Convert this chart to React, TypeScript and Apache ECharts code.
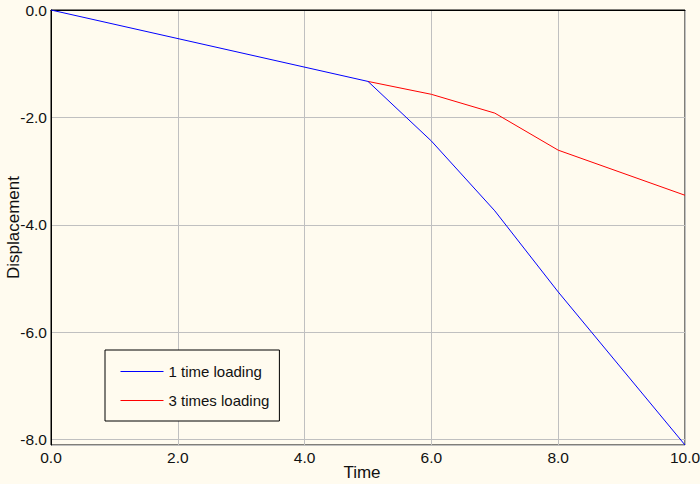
import React, { useEffect, useRef } from "react";
import * as echarts from "echarts";

const oneTimeX = [0, 5, 6, 7, 8, 10];
const oneTimeY = [0, -1.33, -2.44, -3.74, -5.25, -8.1];
const threeTimesX = [5, 6, 7, 8, 10];
const threeTimesY = [-1.33, -1.57, -1.92, -2.61, -3.45];
const seriesNames = ["1 time loading", "3 times loading"];
const seriesColors = ["#0000ff", "#ff0000"];
const xAxisTitle = "Time";
const yAxisTitle = "Displacement";

const FONT = "'Liberation Sans', Arial, sans-serif";
const BG = "#fffbef";

export default function App() {
  const ref = useRef<HTMLDivElement>(null);
  useEffect(() => {
    document.body.style.margin = "0";
    const chart = echarts.init(ref.current!, null, { renderer: "svg" });
    chart.setOption({
      animation: false,
      backgroundColor: BG,
      color: seriesColors,
      grid: {
        left: 51,
        right: 15,
        top: 10,
        bottom: 39,
        outerBoundsMode: "none",
        containLabel: false,
        show: true,
        borderColor: "#000",
        borderWidth: 1,
        backgroundColor: "transparent",
      },
      legend: {
        orient: "vertical",
        left: 105,
        top: 350,
        padding: [14, 10, 13, 15],
        itemGap: 14,
        itemWidth: 43,
        itemHeight: 15,
        borderColor: "#000",
        borderWidth: 1,
        borderRadius: 0,
        backgroundColor: BG,
        itemStyle: { opacity: 0 },
        lineStyle: { width: 1 },
        textStyle: { fontFamily: FONT, fontSize: 15, color: "#111" },
        data: seriesNames.map((name, i) => ({
          name,
          lineStyle: { color: seriesColors[i], width: 1, opacity: 1 },
        })),
      },
      xAxis: {
        type: "value",
        min: 0,
        max: 10,
        interval: 2,
        name: xAxisTitle,
        nameLocation: "middle",
        nameGap: 19,
        nameMoveOverlap: false,
        nameTextStyle: {
          fontFamily: FONT,
          fontSize: 17,
          color: "#111",
          verticalAlign: "top",
          padding: [0, 12, 0, 0],
        },
        axisLine: { lineStyle: { color: "#000", width: 1 } },
        axisTick: { show: false },
        axisLabel: {
          fontFamily: FONT,
          fontSize: 15.5,
          color: "#111",
          margin: 4,
          formatter: (v: number) => v.toFixed(1),
        },
        splitLine: { show: true, lineStyle: { color: "#c0c0c0", width: 1 } },
      },
      yAxis: {
        type: "value",
        min: -8.1,
        max: 0,
        splitNumber: 4,
        name: yAxisTitle,
        nameLocation: "middle",
        nameGap: 29,
        nameMoveOverlap: false,
        nameTextStyle: { fontFamily: FONT, fontSize: 17, color: "#111" },
        axisLine: { show: true, lineStyle: { color: "#000", width: 1 } },
        axisTick: { show: false },
        axisLabel: {
          fontFamily: FONT,
          fontSize: 15.5,
          color: "#111",
          margin: 4,
          showMinLabel: false,
          formatter: (v: number) => v.toFixed(1),
        },
        splitLine: { show: true, lineStyle: { color: "#c0c0c0", width: 1 } },
      },
      series: [
        {
          name: seriesNames[0],
          type: "line",
          symbol: "none",
          color: seriesColors[0],
          lineStyle: { color: seriesColors[0], width: 1 },
          itemStyle: { color: seriesColors[0] },
          data: oneTimeX.map((x, i) => [x, oneTimeY[i]]),
          z: 3,
        },
        {
          name: seriesNames[1],
          type: "line",
          symbol: "none",
          color: seriesColors[1],
          lineStyle: { color: seriesColors[1], width: 1 },
          itemStyle: { color: seriesColors[1] },
          data: threeTimesX.map((x, i) => [x, threeTimesY[i]]),
          z: 2,
        },
      ],
    });
    return () => chart.dispose();
  }, []);
  return <div ref={ref} style={{ width: 700, height: 484 }} />;
}
